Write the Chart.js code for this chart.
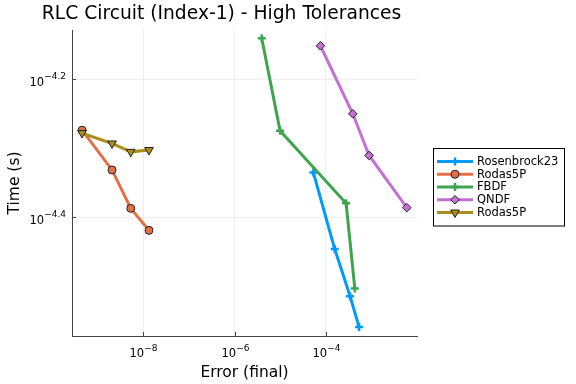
<!DOCTYPE html>
<html><head><meta charset="utf-8">
<script src="https://cdn.jsdelivr.net/npm/chart.js@4"></script>
<style>html,body{margin:0;padding:0;background:#fff}canvas{display:block}</style>
</head><body>
<canvas id="c" width="576" height="384"></canvas>
<script>
// ---- data ----
const seriesNames  = ['Rosenbrock23', 'Rodas5P', 'FBDF', 'QNDF', 'Rodas5P'];
const seriesColors = ['#009afa', '#e36f47', '#3ea44e', '#c371d2', '#ac8e18'];

const rosenbrock23Err  = [5.35e-5, 1.57e-4, 3.41e-4, 5.37e-4];
const rosenbrock23Time = [4.62e-5, 3.58e-5, 3.06e-5, 2.76e-5];

const rodas5PErr  = [4.53e-10, 2.06e-9, 5.30e-9, 1.33e-8];
const rodas5PTime = [5.32e-5, 4.66e-5, 4.10e-5, 3.81e-5];

const fbdfErr  = [3.94e-6, 9.95e-6, 2.79e-4, 4.33e-4];
const fbdfTime = [7.23e-5, 5.31e-5, 4.17e-5, 3.14e-5];

const qndfErr  = [7.62e-5, 3.91e-4, 8.91e-4, 5.97e-3];
const qndfTime = [7.05e-5, 5.62e-5, 4.89e-5, 4.11e-5];

const rodas5P2Err  = [4.53e-10, 2.06e-9, 5.30e-9, 1.33e-8];
const rodas5P2Time = [5.27e-5, 5.09e-5, 4.95e-5, 4.98e-5];

const xTickExps = [-8, -6, -4];
const yTickExps = [-4.4, -4.2];
const xRangeExp = [-9.564, -2.0];
const yRangeExp = [-4.572, -4.129];

const titleText = 'RLC Circuit (Index-1) - High Tolerances';
const xLabel = 'Error (final)';
const yLabel = 'Time (s)';

// ---- build ----
const FONT = "'DejaVu Sans', sans-serif";
const errs  = [rosenbrock23Err, rodas5PErr, fbdfErr, qndfErr, rodas5P2Err];
const times = [rosenbrock23Time, rodas5PTime, fbdfTime, qndfTime, rodas5P2Time];
const styles = [
  {pointStyle:'cross', r:4, bw:2.5, bc:null, rot:0},
  {pointStyle:'circle', r:4, bw:1, bc:'#222', rot:0},
  {pointStyle:'cross', r:4, bw:2.5, bc:null, rot:0},
  {pointStyle:'rectRot', r:4.3, bw:1, bc:'#222', rot:0},
  {pointStyle:'triangle', r:5, bw:1, bc:'#222', rot:180},
];

const datasets = seriesNames.map((name, i) => ({
  label: name,
  data: errs[i].map((e, j) => ({x: e, y: times[i][j]})),
  borderColor: seriesColors[i],
  backgroundColor: seriesColors[i],
  borderWidth: 3,
  pointStyle: styles[i].pointStyle,
  pointRadius: styles[i].r,
  pointBorderWidth: styles[i].bw,
  pointBorderColor: styles[i].bc || seriesColors[i],
  pointBackgroundColor: seriesColors[i],
  pointRotation: styles[i].rot,
  tension: 0,
  order: seriesNames.length - 1 - i,
}));

function fmtExp(e) { return '\u2212' + String(Math.abs(e)); }

function drawPow(ctx, exp, x, y, align, bs, ss, off) {
  const base = '10', sup = fmtExp(exp);
  ctx.font = bs + 'px ' + FONT;
  const w1 = ctx.measureText(base).width;
  ctx.font = ss + 'px ' + FONT;
  const w2 = ctx.measureText(sup).width;
  const tot = w1 + w2;
  let sx = align === 'center' ? x - tot / 2 : x - tot;
  ctx.textAlign = 'left';
  ctx.textBaseline = 'alphabetic';
  ctx.font = bs + 'px ' + FONT;
  ctx.fillText(base, sx, y);
  ctx.font = ss + 'px ' + FONT;
  ctx.fillText(sup, sx + w1, y - off);
}

const decor = {
  id: 'decor',
  afterDraw(chart) {
    const ctx = chart.ctx, a = chart.chartArea;
    const xs = chart.scales.x, ys = chart.scales.y;
    ctx.save();
    ctx.fillStyle = '#000';
    // inward ticks
    ctx.strokeStyle = '#444'; ctx.lineWidth = 1;
    xTickExps.forEach(e => {
      const px = Math.round(xs.getPixelForValue(Math.pow(10, e))) + 0.5;
      ctx.beginPath(); ctx.moveTo(px, a.bottom); ctx.lineTo(px, a.bottom - 4); ctx.stroke();
      drawPow(ctx, e, px, 356.5, 'center', 11.5, 9, 6);
    });
    yTickExps.forEach(e => {
      const py = Math.round(ys.getPixelForValue(Math.pow(10, e))) + 0.5;
      ctx.beginPath(); ctx.moveTo(a.left, py); ctx.lineTo(a.left + 4, py); ctx.stroke();
      drawPow(ctx, e, 66, py + 6, 'right', 11.5, 9, 6.5);
    });
    // title
    ctx.fillStyle = '#000';
    ctx.font = '18.7px ' + FONT;
    ctx.textAlign = 'center'; ctx.textBaseline = 'alphabetic';
    ctx.fillText(titleText, 221.5, 18.5);
    // axis labels
    ctx.font = '15.5px ' + FONT;
    ctx.fillText(xLabel, (a.left + a.right) / 2, 376.5);
    ctx.save();
    ctx.translate(18.5, (a.top + a.bottom) / 2);
    ctx.rotate(-Math.PI / 2);
    ctx.fillText(yLabel, 0, 0);
    ctx.restore();
    // legend
    const lx = 433.5, ly = 148.5, lw = 131, lh = 77.5;
    ctx.fillStyle = '#fff';
    ctx.fillRect(lx, ly, lw, lh);
    ctx.strokeStyle = '#000'; ctx.lineWidth = 1;
    ctx.strokeRect(lx, ly, lw, lh);
    seriesNames.forEach((name, i) => {
      const ry = 161.5 + i * 12.75;
      ctx.strokeStyle = seriesColors[i]; ctx.lineWidth = 3;
      ctx.beginPath(); ctx.moveTo(437, ry); ctx.lineTo(473, ry); ctx.stroke();
      const st = styles[i];
      ctx.fillStyle = seriesColors[i];
      ctx.strokeStyle = st.bc || seriesColors[i];
      ctx.lineWidth = st.bw;
      Chart.helpers.drawPoint(ctx, {pointStyle: st.pointStyle, radius: st.r, rotation: st.rot, borderWidth: st.bw}, 455, ry);
      ctx.fillStyle = '#000';
      ctx.font = '11.5px ' + FONT;
      ctx.textAlign = 'left'; ctx.textBaseline = 'middle';
      ctx.fillText(name, 477, ry + 0.5);
    });
    ctx.restore();
  }
};

new Chart(document.getElementById('c'), {
  type: 'line',
  data: { datasets },
  options: {
    responsive: false,
    animation: false,
    devicePixelRatio: 1,
    layout: { padding: { left: 0, right: 159, top: 30, bottom: 0 } },
    plugins: { legend: { display: false }, tooltip: { enabled: false }, title: { display: false } },
    scales: {
      x: {
        type: 'logarithmic',
        min: Math.pow(10, xRangeExp[0]),
        max: Math.pow(10, xRangeExp[1]),
        afterBuildTicks: s => { s.ticks = xTickExps.map(e => ({value: Math.pow(10, e)})); },
        afterFit: s => { s.height = 48; },
        ticks: { display: false },
        grid: { color: 'rgba(0,0,0,0.065)', drawTicks: false },
        border: { display: true, color: '#444', width: 1 },
      },
      y: {
        type: 'logarithmic',
        min: Math.pow(10, yRangeExp[0]),
        max: Math.pow(10, yRangeExp[1]),
        afterBuildTicks: s => { s.ticks = yTickExps.map(e => ({value: Math.pow(10, e)})); },
        afterFit: s => { s.width = 72; },
        ticks: { display: false },
        grid: { color: 'rgba(0,0,0,0.065)', drawTicks: false },
        border: { display: true, color: '#444', width: 1 },
      }
    }
  },
  plugins: [decor]
});
</script>
</body></html>
